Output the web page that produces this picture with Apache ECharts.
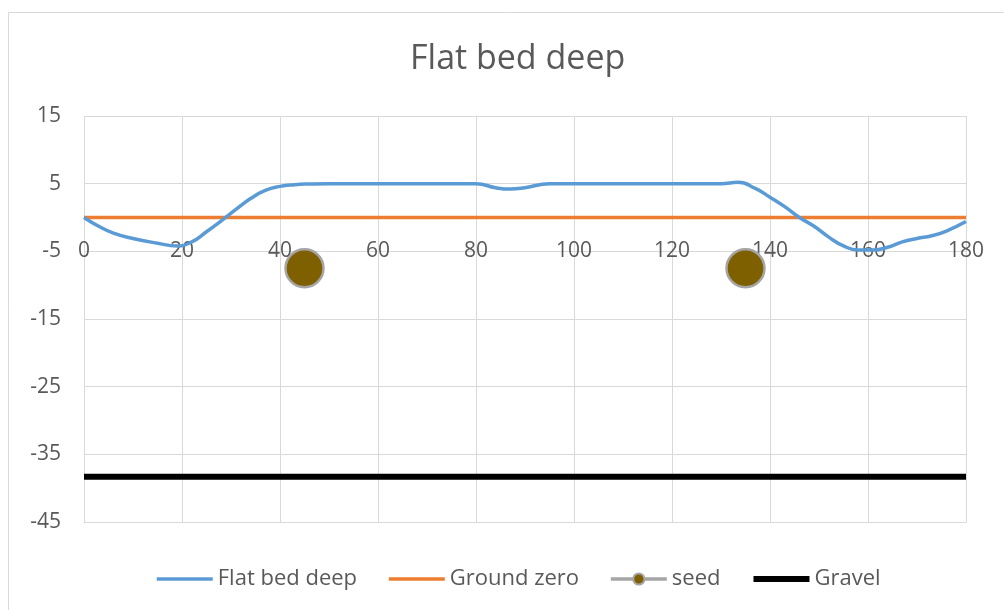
<!DOCTYPE html>
<html>
<head>
<meta charset="utf-8">
<script src="https://cdn.jsdelivr.net/npm/echarts@6/dist/echarts.min.js"></script>
<style>
html,body{margin:0;padding:0;background:#fff;}
#chart{width:1004px;height:610px;}
</style>
</head>
<body>
<div id="chart"></div>
<script>
// ---- data ----
const xValues = [0,3,6,10,15,19,22,25,28,31,34,37,40,43,46,50,60,70,80,84,87,90,95,100,110,120,130,133.5,137,140,143,146,149,152,155,158,161,164,167,170,173,176,180];
const flatBedDeep = [0,-1.3,-2.3,-3.1,-3.8,-4.2,-3.6,-2.1,-0.5,1.2,2.8,4.0,4.6,4.85,4.95,5,5,5,5,4.4,4.2,4.4,5,5,5,5,5,5.2,4.3,3.0,1.6,0.0,-1.3,-2.9,-4.2,-4.8,-4.8,-4.4,-3.6,-3.1,-2.7,-2.0,-0.6];
const groundZeroX = [0,180];
const groundZero = [0,0];
const seedX = [45,135];
const seed = [-7.5,-7.5];
const gravelX = [0,180];
const gravel = [-38.3,-38.3];
const yTickLabels = ['-45','-35','-25','-15','-5','5','15'];
const seriesNames = ['Flat bed deep','Ground zero','seed','Gravel'];

const pair = (xs, ys) => xs.map((x,i)=>[x, ys[i]]);
// seed points separated by a gap so no line connects them
const seedData = [[seedX[0],seed[0]],[(seedX[0]+seedX[1])/2,'-'],[seedX[1],seed[1]]];

const FONT = 'Open Sans';
const TXT = '#595959';
const GRID = '#d9d9d9';
const hiddenDot = {opacity:0,color:'rgba(0,0,0,0)',borderColor:'rgba(0,0,0,0)',borderWidth:0};

const chart = echarts.init(document.getElementById('chart'));
chart.setOption({
  animation:false,
  backgroundColor:'#fff',
  textStyle:{fontFamily:FONT},
  graphic:[{type:'rect',shape:{x:8.5,y:12.5,width:1100,height:700},style:{fill:'none',stroke:'#d9d9d9',lineWidth:1},silent:true}],
  title:{text:'Flat bed deep',left:405,top:37,textStyle:{fontFamily:FONT,fontSize:34,fontWeight:'normal',color:TXT}},
  grid:{left:84,right:38,top:116,bottom:88,containLabel:false},
  legend:{
    top:563,left:150,itemWidth:56,itemHeight:14,itemGap:30,
    textStyle:{fontFamily:FONT,fontSize:22,color:TXT},
    data:[
      {name:seriesNames[0],itemStyle:hiddenDot,lineStyle:{width:3.5}},
      {name:seriesNames[1],itemStyle:hiddenDot,lineStyle:{width:3.5}},
      {name:seriesNames[2],lineStyle:{width:3.5}},
      {name:seriesNames[3],itemStyle:hiddenDot,lineStyle:{width:6}}
    ]
  },
  xAxis:{
    type:'value',min:0,max:180,interval:20,
    axisLine:{show:true,onZero:false,lineStyle:{color:GRID}},
    axisTick:{show:false},
    axisLabel:{margin:-281,fontSize:21,color:TXT,fontFamily:FONT},
    splitLine:{show:true,lineStyle:{color:GRID,width:1}}
  },
  yAxis:[
    {type:'value',min:-45,max:15,position:'right',
     axisLine:{show:false},axisTick:{show:false},axisLabel:{show:false},splitLine:{show:false}},
    {type:'value',min:0,max:60,interval:10,position:'left',
     axisLine:{show:false},axisTick:{show:false},
     axisLabel:{margin:23,fontSize:21,color:TXT,fontFamily:FONT,formatter:(v)=>yTickLabels[Math.round(v/10)]},
     splitLine:{show:true,lineStyle:{color:GRID,width:1}}}
  ],
  series:[
    {name:seriesNames[0],type:'line',yAxisIndex:0,data:pair(xValues,flatBedDeep),smooth:0.5,symbol:'none',
     lineStyle:{color:'#5B9BD5',width:3.5},itemStyle:{color:'#5B9BD5'},z:4},
    {name:seriesNames[1],type:'line',yAxisIndex:0,data:pair(groundZeroX,groundZero),symbol:'none',
     lineStyle:{color:'#ED7D31',width:3.5},itemStyle:{color:'#ED7D31'},z:3},
    {name:seriesNames[2],type:'line',yAxisIndex:0,data:seedData,symbol:'circle',symbolSize:38,showSymbol:true,connectNulls:false,
     lineStyle:{color:'#A5A5A5',width:3.5},itemStyle:{color:'#7F6000',borderColor:'#A5A5A5',borderWidth:2.5},z:5},
    {name:seriesNames[3],type:'line',yAxisIndex:0,data:pair(gravelX,gravel),symbol:'none',
     lineStyle:{color:'#000000',width:6},itemStyle:{color:'#000000'},z:3}
  ]
});
</script>
</body>
</html>
